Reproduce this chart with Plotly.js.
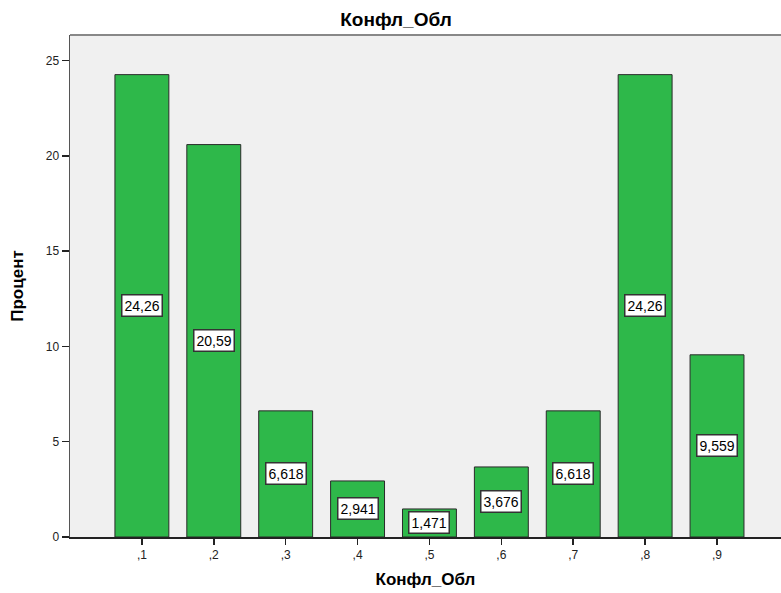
<!DOCTYPE html>
<html><head><meta charset="utf-8">
<script src="https://cdn.plot.ly/plotly-3.0.1.min.js"></script>
<style>body{margin:0;background:#fff}#c{width:781px;height:593px}</style>
</head><body><div id="c"></div>
<script>
const categories = [',1', ',2', ',3', ',4', ',5', ',6', ',7', ',8', ',9'];
const positions = [1, 2, 3, 4, 5, 6, 7, 8, 9];
const values = [24.26, 20.59, 6.618, 2.941, 1.471, 3.676, 6.618, 24.26, 9.559];
const valueLabels = ['24,26', '20,59', '6,618', '2,941', '1,471', '3,676', '6,618', '24,26', '9,559'];
const yTicks = [0, 5, 10, 15, 20, 25];

const FONT = 'Arial, Liberation Sans, sans-serif';
const trace = {
  type: 'bar', x: positions, y: values, width: 0.75,
  marker: {color: '#2eb84a', line: {color: '#2a2a2a', width: 1}},
  hoverinfo: 'none'
};
const annotations = positions.map((p, i) => ({
  x: p, y: values[i] / 2, xref: 'x', yref: 'y', text: valueLabels[i], showarrow: false,
  bgcolor: '#ffffff', bordercolor: '#333333', borderwidth: 1.5, borderpad: 2,
  font: {family: FONT, size: 14, color: '#000'}
}));
const layout = {
  width: 781, height: 593,
  margin: {l: 70, r: 0, t: 35, b: 56},
  paper_bgcolor: '#ffffff', plot_bgcolor: '#f0f0f0',
  font: {family: FONT, color: '#000'},
  title: {text: '<b>Конфл_Обл</b>', font: {family: FONT, size: 19, color: '#000'}, x: 396 / 781, xanchor: 'center', y: 1 - 19 / 593, yanchor: 'middle'},
  xaxis: {
    range: [0, 9.89], tickvals: positions, ticktext: categories,
    ticks: 'outside', ticklen: 6, tickcolor: '#222', tickwidth: 1.5,
    showline: true, linecolor: '#222', linewidth: 1.5, showgrid: false, zeroline: false,
    tickfont: {size: 12, color: '#222'}, fixedrange: true,
    title: {text: '<b>Конфл_Обл</b>', font: {family: FONT, size: 17, color: '#000'}, standoff: 12}
  },
  yaxis: {
    range: [0, 26.34], tickvals: yTicks, ticktext: yTicks.map(String),
    ticks: 'outside', ticklen: 7, tickcolor: '#222', tickwidth: 1.5,
    showline: true, linecolor: '#555', linewidth: 1.5, showgrid: false, zeroline: false,
    tickfont: {size: 12, color: '#222'},
    title: {text: '<b>Процент</b>', font: {family: FONT, size: 17, color: '#000'}, standoff: 18}
  },
  shapes: [{type: 'line', xref: 'paper', yref: 'paper', x0: 0, x1: 1, y0: 1, y1: 1, line: {color: '#888', width: 2}}],
  annotations: annotations,
  showlegend: false
};
Plotly.newPlot('c', [trace], layout, {displayModeBar: false, staticPlot: true});
</script></body></html>
